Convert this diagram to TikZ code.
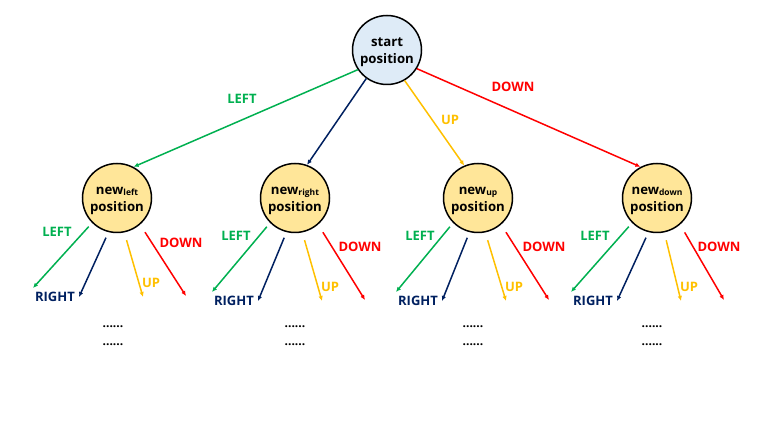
\documentclass[tikz,border=0pt]{standalone}
\usepackage{fontspec}
\setmainfont{Open Sans}
\usetikzlibrary{arrows.meta}
\definecolor{cgreen}{HTML}{00B050}
\definecolor{cnavy}{HTML}{002060}
\definecolor{cyellow}{HTML}{FFC000}
\definecolor{cred}{HTML}{FF0000}
\definecolor{cblue}{HTML}{DEEBF7}
\definecolor{cgold}{HTML}{FFE699}
\newcommand\mysub[1]{\raisebox{-1.5pt}{\fontsize{8.5}{8.5}\selectfont #1}}
\begin{document}
\begin{tikzpicture}[x=1pt,y=-1pt,
 state/.style={circle,draw=black,line width=1.5pt,minimum size=69pt,inner sep=0pt,align=center,font=\fontsize{13.2}{17.5}\selectfont\bfseries},
 arr/.style={line width=1.5pt,-{Latex[length=5pt,width=4.5pt]}},
 lbl/.style={font=\fontsize{13}{14}\selectfont\bfseries,inner sep=0pt},
 dotlbl/.style={font=\fontsize{12}{12}\selectfont\bfseries,inner sep=0pt}]
\useasboundingbox (0,0) rectangle (758,427);
\node[state,fill=cblue] (s) at (387,50) {\rule{0pt}{13pt}start\\position};
\node[state,fill=cgold] (nl) at (117,198) {\rule{0pt}{13pt}new\mysub{left}\\position};
\node[state,fill=cgold] (nr) at (295,198) {\rule{0pt}{13pt}new\mysub{right}\\position};
\node[state,fill=cgold] (nu) at (478,198) {\rule{0pt}{13pt}new\mysub{up}\\position};
\node[state,fill=cgold] (nd) at (657,198) {\rule{0pt}{13pt}new\mysub{down}\\position};
\draw[arr,cgreen] (s.214) -- (nl.62);
\draw[arr,cnavy] (s.234) -- (nr.70);
\draw[arr,cyellow] (s.300) -- (nu.113);
\draw[arr,cred] (s.328) -- (nd.118);
\node[lbl,text=cgreen] (tL) at (242,99) {LEFT};
\node[lbl,text=cyellow] (tU) at (450,120) {UP};
\node[lbl,text=cred] (tD) at (513,87) {DOWN};
\foreach \n/\dx/\dy/\ddx in {nl/-2/-4/-4,nr/-1/0/0,nu/0/0/-5,nd/-4/0/-5}{
 \coordinate (\n-eL) at ([shift={(-82+\dx,94+\dy)}]\n.center);
 \coordinate (\n-eR) at ([shift={(-36+\dx,103+\dy)}]\n.center);
 \coordinate (\n-eU) at ([shift={(28+\dx,103+\dy)}]\n.center);
 \coordinate (\n-eD) at ([shift={(71+\dx,102+\dy)}]\n.center);
 \draw[arr,cgreen,shorten <=5pt] (\n.225) -- (\n-eL);
 \draw[arr,cnavy,shorten <=6pt] (\n.256) -- (\n-eR);
 \draw[arr,cyellow,shorten <=8pt] (\n.282) -- (\n-eU);
 \draw[arr,cred,shorten <=9pt] (\n.311) -- (\n-eD);
 \node[lbl,text=cgreen] (\n-lL) at ([shift={(-58+\dx,38+\dy)}]\n.center) {LEFT};
 \node[lbl,text=cnavy] (\n-lR) at ([shift={(-60+\dx,103+\dy)}]\n.center) {RIGHT};
 \node[lbl,text=cyellow] (\n-lU) at ([shift={(36+\dx,89+\dy)}]\n.center) {UP};
 \node[lbl,text=cred] (\n-lD) at ([shift={(66+\dx,49+\dy)}]\n.center) {DOWN};
 \node[dotlbl] (\n-d1) at ([shift={(\ddx,129)}]\n.center) {......};
 \node[dotlbl] (\n-d2) at ([shift={(\ddx,147)}]\n.center) {......};
}
\end{tikzpicture}
\end{document}
